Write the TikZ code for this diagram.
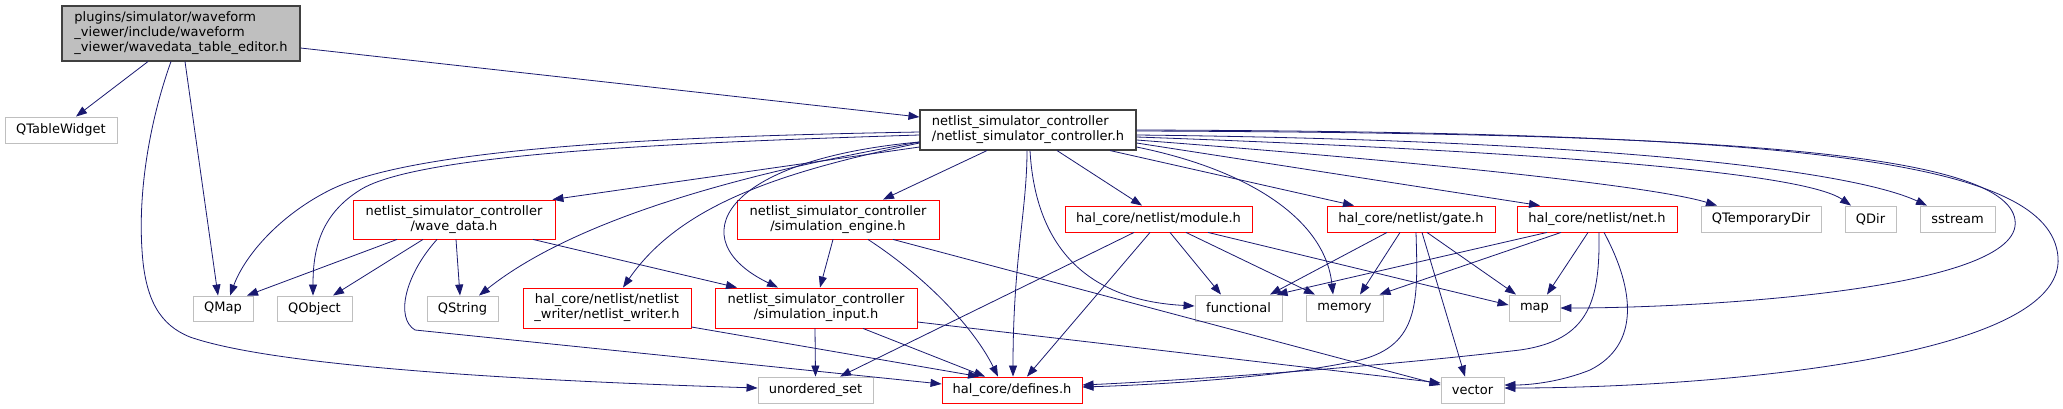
\documentclass[tikz,border=0pt]{standalone}
\usepackage{fontspec}
\setmainfont{DejaVu Sans}
\usepackage{tikz}
\usetikzlibrary{arrows.meta}
\definecolor{edgeblue}{RGB}{25,25,112}
\definecolor{hdrred}{RGB}{255,0,0}
\definecolor{sysgray}{RGB}{191,191,191}
\definecolor{curline}{RGB}{64,64,64}

\begin{document}
\begin{tikzpicture}[x=1pt,y=-1pt,
	every node/.style={inner sep=0pt,font=\fontsize{13}{15}\selectfont},
	cur/.style={draw=curline,fill=sysgray,line width=1.1pt,align=left},
	inc/.style={draw=curline,fill=white,line width=1.1pt,align=left},
	hdr/.style={draw=hdrred,fill=white,line width=0.9pt,align=center},
	sys/.style={draw=sysgray,fill=white,line width=0.9pt},
	dep/.style={draw=edgeblue,line width=0.8pt,-{Triangle[length=11pt,width=8pt]}}]
	\fill[white] (0,0) rectangle (2063,409);
	\useasboundingbox (0,0) rectangle (2063,409);

	% top row
	\node[cur,minimum width=238pt,minimum height=55pt] (root) at (181,33.5)
		{plugins/simulator/waveform\\\_viewer/include/waveform\\\_viewer/wavedata\_table\_editor.h};
	\node[sys,minimum width=112pt,minimum height=26pt] (qtablewidget) at (61,130) {QTableWidget};
	\node[inc,minimum width=216pt,minimum height=40pt] (nsc) at (1028,130)
		{netlist\_simulator\_controller\\/netlist\_simulator\_controller.h};

	% second row
	\node[hdr,minimum width=202pt,minimum height=39pt] (wavedata) at (454,219.5)
		{netlist\_simulator\_controller\\/wave\_data.h};
	\node[hdr,minimum width=202pt,minimum height=39pt] (simengine) at (838,219.5)
		{netlist\_simulator\_controller\\/simulation\_engine.h};
	\node[hdr,minimum width=187pt,minimum height=26pt] (module) at (1158.5,219) {hal\_core/netlist/module.h};
	\node[hdr,minimum width=168pt,minimum height=26pt] (gate) at (1411,219) {hal\_core/netlist/gate.h};
	\node[hdr,minimum width=160pt,minimum height=26pt] (net) at (1597,219) {hal\_core/netlist/net.h};
	\node[sys,minimum width=120pt,minimum height=26pt] (tempdir) at (1761,219) {QTemporaryDir};
	\node[sys,minimum width=51pt,minimum height=26pt] (qdir) at (1870.5,219) {QDir};
	\node[sys,minimum width=75pt,minimum height=26pt] (sstream) at (1957.5,219) {sstream};

	% third row
	\node[sys,minimum width=60pt,minimum height=25pt] (qmap) at (223,308.5) {QMap};
	\node[sys,minimum width=75pt,minimum height=25pt] (qobject) at (314.5,308.5) {QObject};
	\node[sys,minimum width=71pt,minimum height=25pt] (qstring) at (462.5,308.5) {QString};
	\node[hdr,minimum width=168pt,minimum height=40pt] (writer) at (607,308)
		{hal\_core/netlist/netlist\\\_writer/netlist\_writer.h};
	\node[hdr,minimum width=202pt,minimum height=40pt] (siminput) at (816,308)
		{netlist\_simulator\_controller\\/simulation\_input.h};
	\node[sys,minimum width=87pt,minimum height=26pt] (functional) at (1238.5,308) {functional};
	\node[sys,minimum width=77pt,minimum height=26pt] (memory) at (1344.5,308) {memory};
	\node[sys,minimum width=51pt,minimum height=26pt] (map) at (1534.5,308) {map};

	% bottom row
	\node[sys,minimum width=115pt,minimum height=26pt] (unorderedset) at (815.5,390) {unordered\_set};
	\node[hdr,minimum width=140pt,minimum height=26pt] (defines) at (1012,390) {hal\_core/defines.h};
	\node[sys,minimum width=63pt,minimum height=26pt] (vector) at (1472.5,390) {vector};

	% wavedata_table_editor.h
	\draw[dep] ([xshift=-33pt]root.south) -- ([xshift=15pt]qtablewidget.north);
	\draw[dep] ([xshift=4pt]root.south) -- ([xshift=-5pt]qmap.north);
	\draw[dep] ([xshift=-10pt]root.south) .. controls (150,120) and (138,190) .. (142,250)
		.. controls (145,300) and (160,325) .. (190,337)
		.. controls (270,365) and (500,380) .. ([yshift=2pt]unorderedset.west);
	\draw[dep] ([yshift=-14.5pt]root.east) -- ([yshift=13pt]nsc.west);

	% netlist_simulator_controller.h
	\draw[dep] ([yshift=-2pt]nsc.west) .. controls (700,136) and (420,145) .. (330,190)
		.. controls (280,215) and (245,255) .. ([xshift=7pt]qmap.north);
	\draw[dep] ([yshift=-5pt]nsc.west) .. controls (700,142) and (420,152) .. (360,190)
		.. controls (320,215) and (313,250) .. ([xshift=-1.5pt]qobject.north);
	\draw[dep] ([yshift=-17pt]nsc.west) -- ([xshift=-3pt]wavedata.north east);
	\draw[dep] ([yshift=-12pt]nsc.west) .. controls (760,170) and (580,215) .. ([xshift=16.5pt]qstring.north);
	\draw[dep] ([yshift=-13pt]nsc.west) .. controls (780,172) and (680,205) .. ([xshift=16pt]writer.north);
	\draw[dep] ([yshift=-12pt]nsc.west) .. controls (720,160) and (680,240) .. ([xshift=-38pt]siminput.north);
	\draw[dep] ([xshift=-41pt]nsc.south) -- ([xshift=45pt]simengine.north);
	\draw[dep] ([xshift=-1pt]nsc.south) .. controls (1027,210) and (1013,260) .. ([xshift=1pt]defines.north);
	\draw[dep] ([xshift=2pt]nsc.south) .. controls (1035,240) and (1080,300) .. ([yshift=2pt]functional.west);
	\draw[dep] ([xshift=29pt]nsc.south) -- ([xshift=-16.5pt]module.north);
	\draw[dep] ([xshift=82pt]nsc.south) -- ([xshift=-57pt]gate.north);
	\draw[dep] ([yshift=-17pt]nsc.east) .. controls (1250,170) and (1325,220) .. ([xshift=-11.5pt]memory.north);
	\draw[dep] ([yshift=-13pt]nsc.east) -- ([xshift=-57pt]net.north);
	\draw[dep] ([yshift=-10pt]nsc.east) .. controls (1400,160) and (1650,185) .. ([xshift=-44pt]tempdir.north);
	\draw[dep] ([yshift=-7pt]nsc.east) .. controls (1500,150) and (1800,170) .. ([xshift=-19.5pt]qdir.north);
	\draw[dep] ([yshift=-5pt]nsc.east) .. controls (1600,140) and (1850,170) .. ([xshift=-30.5pt]sstream.north);
	\draw[dep] ([yshift=-1pt]nsc.east) .. controls (1700,133) and (2005,150) .. (2015,220)
		.. controls (2025,290) and (1700,308) .. (map.east);
	\draw[dep] (nsc.east) .. controls (1800,132) and (2050,160) .. (2058,257)
		.. controls (2066,360) and (1700,388) .. ([yshift=2pt]vector.east);

	% wave_data.h
	\draw[dep] ([xshift=-57pt]wavedata.south) -- ([xshift=24pt]qmap.north);
	\draw[dep] ([xshift=-31pt]wavedata.south) -- ([xshift=18.5pt]qobject.north);
	\draw[dep] ([xshift=2pt]wavedata.south) -- ([xshift=-2.5pt]qstring.north);
	\draw[dep] ([xshift=79pt]wavedata.south) -- ([xshift=-79pt]siminput.north);
	\draw[dep] ([xshift=-17pt]wavedata.south) .. controls (405,275) and (395,318) .. (415,330)
		-- ([yshift=6pt]defines.west);

	% simulation_engine.h
	\draw[dep] ([xshift=-5pt]simengine.south) -- ([xshift=4pt]siminput.north);
	\draw[dep] ([xshift=30pt]simengine.south) .. controls (930,280) and (975,330) .. ([xshift=-14pt]defines.north);
	\draw[dep] ([xshift=55pt]simengine.south) -- ([yshift=5pt]vector.west);

	% simulation_input.h, netlist_writer.h
	\draw[dep] ([xshift=-1pt]siminput.south) -- (unorderedset.north);
	\draw[dep] ([xshift=47pt]siminput.south) -- ([xshift=-27pt]defines.north);
	\draw[dep] ([yshift=-14pt]siminput.east) -- ([yshift=7pt]vector.west);
	\draw[dep] ([yshift=-19pt]writer.east) -- ([xshift=-33pt]defines.north);

	% module.h
	\draw[dep] ([xshift=-24.5pt]module.south) -- ([xshift=24.5pt]unorderedset.north);
	\draw[dep] ([xshift=-8.5pt]module.south) -- ([xshift=15pt]defines.north);
	\draw[dep] ([xshift=11.5pt]module.south) -- ([xshift=-17.5pt]functional.north);
	\draw[dep] ([xshift=27.5pt]module.south) -- ([xshift=-29.5pt]memory.north);
	\draw[dep] ([xshift=49.5pt]module.south) -- ([yshift=3pt]map.west);

	% gate.h
	\draw[dep] ([xshift=-24pt]gate.south) -- ([xshift=31.5pt]functional.north);
	\draw[dep] ([xshift=-11pt]gate.south) -- ([xshift=15.5pt]memory.north);
	\draw[dep] ([xshift=5pt]gate.south) .. controls (1418,300) and (1420,345) .. (1360,360)
		.. controls (1280,378) and (1150,385) .. ([yshift=3pt]defines.east);
	\draw[dep] ([xshift=11pt]gate.south) -- ([xshift=-7.5pt]vector.north);
	\draw[dep] ([xshift=16pt]gate.south) -- ([xshift=-18.5pt]map.north);

	% net.h
	\draw[dep] ([xshift=-50pt]net.south) -- ([xshift=38pt]functional.north);
	\draw[dep] ([xshift=-36pt]net.south) -- ([xshift=35pt]memory.north);
	\draw[dep] ([xshift=-9pt]net.south) -- ([xshift=12.5pt]map.north);
	\draw[dep] ([xshift=2pt]net.south) .. controls (1600,300) and (1590,340) .. (1520,350)
		.. controls (1350,370) and (1150,382) .. ([yshift=5pt]defines.east);
	\draw[dep] ([xshift=7pt]net.south) .. controls (1635,290) and (1640,345) .. (1590,370)
		.. controls (1560,382) and (1530,385) .. ([yshift=5pt]vector.east);
\end{tikzpicture}
\end{document}
